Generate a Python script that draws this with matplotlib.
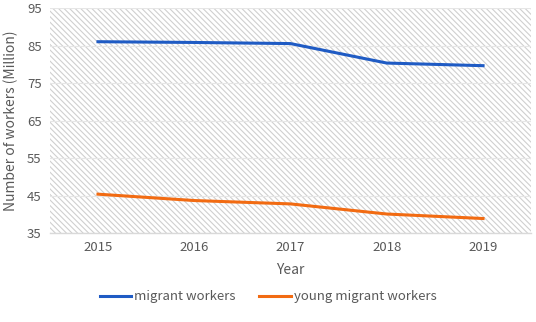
import matplotlib
matplotlib.use("Agg")
import matplotlib.pyplot as plt
from matplotlib.patches import Rectangle

# data
years = ["2015", "2016", "2017", "2018", "2019"]
migrant = [86.1, 85.9, 85.6, 80.4, 79.7]
young_migrant = [45.4, 43.7, 42.8, 40.1, 38.9]
y_ticks = [35, 45, 55, 65, 75, 85, 95]

plt.rcParams['font.family'] = ['Noto Sans CJK SC', 'DejaVu Sans']
plt.rcParams['hatch.color'] = '#cfcfcf'
plt.rcParams['hatch.linewidth'] = 0.8
text_color = '#595959'

fig = plt.figure(figsize=(5.36, 3.22), dpi=100)
ax = fig.add_axes([0.093, 0.276, 0.898, 0.698])

# hatched plot background
ax.add_patch(Rectangle((0, 0), 1, 1, transform=ax.transAxes, facecolor='white',
                       edgecolor='#cfcfcf', hatch='\\' * 6, linewidth=0, zorder=0))

x = list(range(len(years)))
ax.plot(x, migrant, color='#1f5bc4', linewidth=2.2, label='migrant workers', zorder=3)
ax.plot(x, young_migrant, color='#f26b12', linewidth=2.2, label='young migrant workers', zorder=3)

ax.set_xlim(-0.5, len(years) - 0.5)
ax.set_ylim(35, 95)
ax.set_xticks(x)
ax.set_xticklabels(years)
ax.set_yticks(y_ticks)
ax.grid(axis='y', color='#e6e6e6', linewidth=0.8, zorder=1)
ax.set_axisbelow(True)

for side in ['left', 'right', 'top']:
    ax.spines[side].set_visible(False)
ax.spines['bottom'].set_color('#d9d9d9')
ax.spines['bottom'].set_linewidth(1.0)
ax.tick_params(axis='both', length=0, labelsize=9.5, colors=text_color, pad=6)

ax.set_xlabel('Year', fontsize=10, color=text_color, labelpad=6)
ax.set_ylabel('Number of workers (Million)', fontsize=10, color=text_color, labelpad=6)

fig.legend(loc='center', bbox_to_anchor=(0.5, 0.078), ncol=2, frameon=False,
           fontsize=9.5, labelcolor=text_color, handlelength=2.4, handletextpad=0.2,
           columnspacing=1.8)

fig.savefig('out.png', dpi=100)
